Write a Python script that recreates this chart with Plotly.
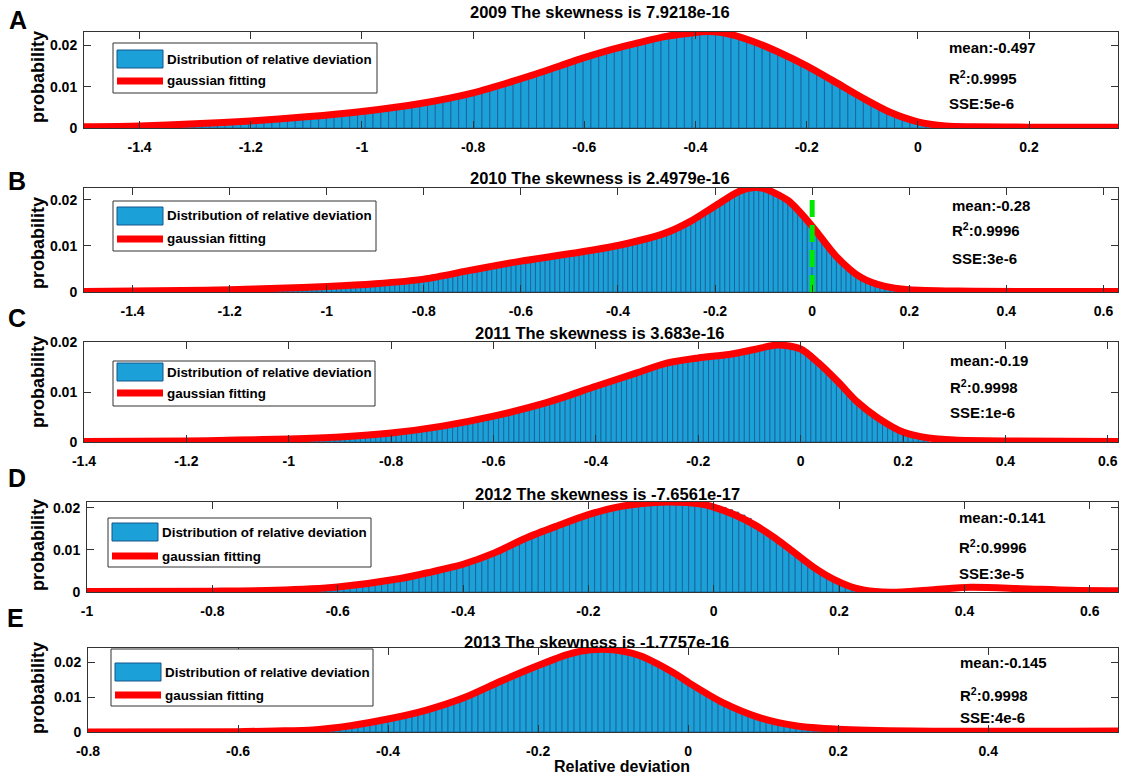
import numpy as np
import plotly.graph_objects as go

# ---------------- data ----------------
titles = ["2009 The skewness is 7.9218e-16",
          "2010 The skewness is 2.4979e-16",
          "2011 The skewness is 3.683e-16",
          "2012 The skewness is -7.6561e-17",
          "2013 The skewness is -1.7757e-16"]
panel_letters = ["A", "B", "C", "D", "E"]
means = ["-0.497", "-0.28", "-0.19", "-0.141", "-0.145"]
r2_vals = ["0.9995", "0.9996", "0.9998", "0.9996", "0.9998"]
sse_vals = ["5e-6", "3e-6", "1e-6", "3e-5", "4e-6"]
legend_labels = ["Distribution of relative deviation", "gaussian fitting"]
y_label = "probability"
x_label = "Relative deviation"

# histogram bins: first edge, bin width, bar heights (probability)
A_bin_start, A_bin_width = -1.33, 0.014
A_heights = [0.0009, 0.0010, 0.0010, 0.0011, 0.0012, 0.0013, 0.0014, 0.0015, 0.0016, 0.0017,
             0.0018, 0.0020, 0.0021, 0.0022, 0.0024, 0.0025, 0.0027, 0.0029, 0.0031, 0.0033,
             0.0034, 0.0036, 0.0038, 0.0040, 0.0042, 0.0045, 0.0047, 0.0050, 0.0052, 0.0055,
             0.0058, 0.0061, 0.0064, 0.0068, 0.0072, 0.0076, 0.0080, 0.0084, 0.0088, 0.0093,
             0.0098, 0.0104, 0.0110, 0.0116, 0.0122, 0.0128, 0.0134, 0.0140, 0.0147, 0.0153,
             0.0160, 0.0166, 0.0172, 0.0178, 0.0184, 0.0189, 0.0194, 0.0199, 0.0203, 0.0207,
             0.0212, 0.0216, 0.0220, 0.0224, 0.0227, 0.0229, 0.0231, 0.0232, 0.0232, 0.0230,
             0.0227, 0.0222, 0.0216, 0.0208, 0.0201, 0.0193, 0.0185, 0.0177, 0.0169, 0.0160,
             0.0152, 0.0142, 0.0132, 0.0122, 0.0111, 0.0100, 0.0089, 0.0078, 0.0067, 0.0056,
             0.0046, 0.0037, 0.0029, 0.0022, 0.0016, 0.0011, 0.0007]

B_bin_start, B_bin_width = -1.20, 0.01
B_heights = [0.0005, 0.0005, 0.0005, 0.0006, 0.0006, 0.0006, 0.0007, 0.0007, 0.0007, 0.0008,
             0.0008, 0.0008, 0.0009, 0.0009, 0.0010, 0.0010, 0.0010, 0.0011, 0.0011, 0.0012,
             0.0012, 0.0013, 0.0013, 0.0014, 0.0014, 0.0015, 0.0016, 0.0016, 0.0017, 0.0018,
             0.0019, 0.0020, 0.0021, 0.0022, 0.0023, 0.0024, 0.0025, 0.0026, 0.0027, 0.0028,
             0.0029, 0.0031, 0.0033, 0.0035, 0.0037, 0.0039, 0.0041, 0.0043, 0.0045, 0.0047,
             0.0049, 0.0051, 0.0053, 0.0055, 0.0057, 0.0059, 0.0061, 0.0063, 0.0065, 0.0066,
             0.0068, 0.0069, 0.0071, 0.0072, 0.0074, 0.0076, 0.0077, 0.0079, 0.0080, 0.0082,
             0.0084, 0.0085, 0.0087, 0.0089, 0.0091, 0.0093, 0.0094, 0.0096, 0.0098, 0.0100,
             0.0102, 0.0104, 0.0106, 0.0108, 0.0111, 0.0114, 0.0117, 0.0120, 0.0123, 0.0127,
             0.0132, 0.0136, 0.0141, 0.0146, 0.0151, 0.0157, 0.0163, 0.0170, 0.0177, 0.0184,
             0.0191, 0.0198, 0.0205, 0.0211, 0.0216, 0.0220, 0.0223, 0.0225, 0.0226, 0.0226,
             0.0224, 0.0221, 0.0217, 0.0212, 0.0205, 0.0197, 0.0188, 0.0177, 0.0165, 0.0151,
             0.0136, 0.0122, 0.0108, 0.0095, 0.0082, 0.0070, 0.0059, 0.0049, 0.0041, 0.0034,
             0.0028, 0.0023, 0.0019, 0.0016, 0.0013, 0.0011, 0.0009, 0.0007, 0.0006, 0.0005]

C_bin_start, C_bin_width = -1.00, 0.01
C_heights = [0.0006, 0.0006, 0.0007, 0.0007, 0.0007, 0.0008, 0.0008, 0.0009, 0.0009, 0.0010,
             0.0010, 0.0011, 0.0011, 0.0012, 0.0013, 0.0014, 0.0015, 0.0016, 0.0016, 0.0017,
             0.0018, 0.0019, 0.0021, 0.0022, 0.0023, 0.0025, 0.0026, 0.0028, 0.0029, 0.0031,
             0.0033, 0.0035, 0.0037, 0.0039, 0.0041, 0.0043, 0.0045, 0.0047, 0.0049, 0.0051,
             0.0053, 0.0056, 0.0058, 0.0061, 0.0063, 0.0066, 0.0069, 0.0071, 0.0074, 0.0077,
             0.0080, 0.0083, 0.0087, 0.0090, 0.0094, 0.0097, 0.0101, 0.0104, 0.0107, 0.0111,
             0.0114, 0.0117, 0.0120, 0.0123, 0.0126, 0.0129, 0.0132, 0.0136, 0.0139, 0.0143,
             0.0146, 0.0149, 0.0152, 0.0155, 0.0158, 0.0160, 0.0162, 0.0164, 0.0166, 0.0168,
             0.0169, 0.0170, 0.0171, 0.0172, 0.0173, 0.0174, 0.0176, 0.0177, 0.0178, 0.0179,
             0.0181, 0.0184, 0.0187, 0.0189, 0.0191, 0.0193, 0.0194, 0.0194, 0.0192, 0.0189,
             0.0183, 0.0176, 0.0169, 0.0159, 0.0150, 0.0140, 0.0130, 0.0119, 0.0109, 0.0099,
             0.0089, 0.0078, 0.0070, 0.0062, 0.0053, 0.0046, 0.0040, 0.0033, 0.0027, 0.0022,
             0.0018, 0.0015, 0.0012, 0.0010, 0.0008]

D_bin_start, D_bin_width = -0.70, 0.01
D_heights = [0.0004, 0.0005, 0.0005, 0.0006, 0.0007, 0.0007, 0.0008, 0.0009, 0.0010, 0.0011,
             0.0013, 0.0014, 0.0016, 0.0018, 0.0020, 0.0022, 0.0024, 0.0026, 0.0028, 0.0030,
             0.0033, 0.0036, 0.0039, 0.0042, 0.0045, 0.0048, 0.0051, 0.0055, 0.0058, 0.0062,
             0.0066, 0.0071, 0.0076, 0.0081, 0.0087, 0.0093, 0.0099, 0.0106, 0.0113, 0.0120,
             0.0126, 0.0132, 0.0138, 0.0144, 0.0150, 0.0156, 0.0162, 0.0167, 0.0172, 0.0177,
             0.0182, 0.0187, 0.0191, 0.0195, 0.0199, 0.0202, 0.0204, 0.0206, 0.0208, 0.0210,
             0.0211, 0.0212, 0.0213, 0.0213, 0.0213, 0.0212, 0.0211, 0.0209, 0.0207, 0.0205,
             0.0205, 0.0201, 0.0196, 0.0190, 0.0183, 0.0175, 0.0164, 0.0150, 0.0140, 0.0130,
             0.0120, 0.0109, 0.0097, 0.0086, 0.0074, 0.0063, 0.0053, 0.0044, 0.0036, 0.0028,
             0.0021, 0.0015, 0.0010, 0.0006, 0.0003]

E_bin_start, E_bin_width = -0.52, 0.008
E_heights = [0.0004, 0.0005, 0.0006, 0.0007, 0.0009, 0.0011, 0.0013, 0.0015, 0.0017, 0.0020,
             0.0022, 0.0025, 0.0028, 0.0031, 0.0035, 0.0039, 0.0042, 0.0046, 0.0050, 0.0054,
             0.0059, 0.0063, 0.0068, 0.0074, 0.0080, 0.0086, 0.0091, 0.0097, 0.0104, 0.0111,
             0.0119, 0.0127, 0.0135, 0.0143, 0.0150, 0.0157, 0.0165, 0.0172, 0.0179, 0.0186,
             0.0193, 0.0200, 0.0206, 0.0212, 0.0219, 0.0224, 0.0228, 0.0231, 0.0233, 0.0234,
             0.0235, 0.0234, 0.0233, 0.0231, 0.0228, 0.0224, 0.0220, 0.0214, 0.0206, 0.0198,
             0.0189, 0.0180, 0.0170, 0.0159, 0.0148, 0.0137, 0.0126, 0.0115, 0.0105, 0.0095,
             0.0086, 0.0078, 0.0071, 0.0064, 0.0057, 0.0051, 0.0045, 0.0040, 0.0035, 0.0031,
             0.0027, 0.0023, 0.0020, 0.0017, 0.0015, 0.0013, 0.0011, 0.0010, 0.0009, 0.0008]

# gaussian fitting curves
A_fit_x = [-1.5, -1.4, -1.3, -1.2, -1.1, -1.0, -0.9, -0.8, -0.7, -0.6, -0.55, -0.5, -0.45, -0.4,
           -0.38, -0.35, -0.3, -0.25, -0.2, -0.15, -0.1, -0.05, 0.0, 0.05, 0.1, 0.2, 0.36]
A_fit_y = [0.0003, 0.0005, 0.0010, 0.0017, 0.0027, 0.0040, 0.0058, 0.0085, 0.0125, 0.0170, 0.0190,
           0.0207, 0.0222, 0.0231, 0.0233, 0.0230, 0.0211, 0.0183, 0.0150, 0.0112, 0.0073, 0.0038,
           0.0015, 0.0005, 0.0003, 0.0002, 0.0002]

B_fit_x = [-1.5, -1.4, -1.3, -1.2, -1.1, -1.0, -0.9, -0.8, -0.7, -0.6, -0.5, -0.4, -0.3, -0.25,
           -0.2, -0.15, -0.12, -0.1, -0.05, 0.0, 0.05, 0.1, 0.15, 0.2, 0.3, 0.63]
B_fit_y = [0.0001, 0.0002, 0.0003, 0.0005, 0.0008, 0.0012, 0.0018, 0.0028, 0.0048, 0.0067, 0.0083,
           0.0101, 0.0129, 0.0154, 0.0187, 0.0219, 0.0227, 0.0225, 0.0199, 0.0143, 0.0077, 0.0032,
           0.0012, 0.0005, 0.0002, 0.0001]
B_zero_line_x = 0.0
B_zero_line_top = 0.0211

C_fit_x = [-1.4, -1.2, -1.1, -1.0, -0.9, -0.8, -0.7, -0.6, -0.5, -0.4, -0.32, -0.26, -0.2, -0.14,
           -0.09, -0.045, 0.0, 0.035, 0.075, 0.11, 0.15, 0.2, 0.25, 0.3, 0.4, 0.62]
C_fit_y = [0.0001, 0.0002, 0.0004, 0.0006, 0.0010, 0.0018, 0.0032, 0.0052, 0.0078, 0.0112, 0.0139,
           0.0159, 0.0169, 0.0176, 0.0186, 0.0195, 0.0187, 0.0159, 0.0119, 0.0081, 0.0049, 0.0020,
           0.0008, 0.0004, 0.0002, 0.0001]

D_fit_x = [-1.0, -0.8, -0.7, -0.6, -0.5, -0.45, -0.4, -0.35, -0.3, -0.25, -0.2, -0.15, -0.1, -0.07,
           -0.02, 0.0, 0.034, 0.066, 0.098, 0.13, 0.162, 0.194, 0.226, 0.258, 0.3, 0.354, 0.41,
           0.49, 0.57, 0.645]
D_fit_y = [0.0001, 0.0002, 0.0004, 0.0012, 0.0032, 0.0048, 0.0066, 0.0093, 0.0128, 0.0157, 0.0184,
           0.0203, 0.0212, 0.0214, 0.0209, 0.0202, 0.0183, 0.0159, 0.0128, 0.0092, 0.0056, 0.0028,
           0.0009, 0.0001, 0.0000, 0.0006, 0.0011, 0.0008, 0.0004, 0.0003]

E_fit_x = [-0.8, -0.6, -0.55, -0.5, -0.45, -0.4, -0.35, -0.3, -0.25, -0.2, -0.16, -0.13, -0.1,
           -0.064, -0.02, 0.0, 0.047, 0.095, 0.143, 0.2, 0.3, 0.573]
E_fit_y = [0.0000, 0.0001, 0.0003, 0.0006, 0.0018, 0.0037, 0.0062, 0.0097, 0.0145, 0.0190, 0.0222,
           0.0235, 0.0235, 0.0218, 0.0170, 0.0142, 0.0083, 0.0041, 0.0018, 0.0008, 0.0003, 0.0003]

# axis ticks
A_xticks = [-1.4, -1.2, -1.0, -0.8, -0.6, -0.4, -0.2, 0.0, 0.2]
A_xticklabels = ["-1.4", "-1.2", "-1", "-0.8", "-0.6", "-0.4", "-0.2", "0", "0.2"]
B_xticks = [-1.4, -1.2, -1.0, -0.8, -0.6, -0.4, -0.2, 0.0, 0.2, 0.4, 0.6]
B_xticklabels = ["-1.4", "-1.2", "-1", "-0.8", "-0.6", "-0.4", "-0.2", "0", "0.2", "0.4", "0.6"]
C_xticks = B_xticks
C_xticklabels = B_xticklabels
D_xticks = [-1.0, -0.8, -0.6, -0.4, -0.2, 0.0, 0.2, 0.4, 0.6]
D_xticklabels = ["-1", "-0.8", "-0.6", "-0.4", "-0.2", "0", "0.2", "0.4", "0.6"]
E_xticks = [-0.8, -0.6, -0.4, -0.2, 0.0, 0.2, 0.4]
E_xticklabels = ["-0.8", "-0.6", "-0.4", "-0.2", "0", "0.2", "0.4"]
y_ticks = [0.0, 0.01, 0.02]
y_ticklabels = ["0", "0.01", "0.02"]

A_xrange, A_yrange = [-1.5, 0.36], [0, 0.0232]
B_xrange, B_yrange = [-1.5, 0.63], [0, 0.0226]
C_xrange, C_yrange = [-1.4, 0.62], [0, 0.0201]
D_xrange, D_yrange = [-1.0, 0.645], [0, 0.0214]
E_xrange, E_yrange = [-0.8, 0.573], [0, 0.0240]

# ---------------- styling / layout ----------------
W, H = 1128, 775
BAR = "rgb(28,160,216)"
EDGE = "rgb(22,84,140)"
RED = "rgb(255,0,0)"
GREEN = "rgb(0,232,0)"
AX = "#333333"
FONT = "Liberation Sans, Arial, Helvetica, sans-serif"


def fx(p):
    """window pixel x -> paper fraction"""
    return p / W


def fy(p):
    """window pixel y -> paper fraction"""
    return 1 - p / H


panels = [
    dict(start=A_bin_start, width=A_bin_width, h=A_heights, fx_=A_fit_x, fy_=A_fit_y,
         xt=A_xticks, xl=A_xticklabels, xr=A_xrange, yr=A_yrange,
         box=(84, 32, 1118, 128), leg=(113, 43, 377, 93, 59, 81), stats=(947, 48, 77, 103),
         title=(600, 12), letter=(18, 20), ylab=(38, 77)),
    dict(start=B_bin_start, width=B_bin_width, h=B_heights, fx_=B_fit_x, fy_=B_fit_y,
         xt=B_xticks, xl=B_xticklabels, xr=B_xrange, yr=B_yrange,
         box=(84, 188, 1118, 292), leg=(113, 201, 376, 251, 216, 239), stats=(950, 205, 230, 258),
         title=(600, 178), letter=(17, 181), ylab=(38, 243)),
    dict(start=C_bin_start, width=C_bin_width, h=C_heights, fx_=C_fit_x, fy_=C_fit_y,
         xt=C_xticks, xl=C_xticklabels, xr=C_xrange, yr=C_yrange,
         box=(84, 342, 1118, 442), leg=(113, 361, 375, 406, 372, 393), stats=(948, 360, 386, 412),
         title=(600, 333), letter=(17, 318), ylab=(38, 382)),
    dict(start=D_bin_start, width=D_bin_width, h=D_heights, fx_=D_fit_x, fy_=D_fit_y,
         xt=D_xticks, xl=D_xticklabels, xr=D_xrange, yr=D_yrange,
         box=(87, 502, 1118, 592), leg=(108, 518, 371, 567, 532, 556), stats=(957, 517, 546, 573),
         title=(607, 494), letter=(17, 478), ylab=(38, 545)),
    dict(start=E_bin_start, width=E_bin_width, h=E_heights, fx_=E_fit_x, fy_=E_fit_y,
         xt=E_xticks, xl=E_xticklabels, xr=E_xrange, yr=E_yrange,
         box=(88, 648, 1118, 732), leg=(111, 649, 373, 706, 672, 695), stats=(958, 662, 694, 717),
         title=(596, 642), letter=(15, 618), ylab=(38, 688)),
]

fig = go.Figure()
layout = dict(width=W, height=H, margin=dict(l=0, r=0, t=0, b=0, pad=0, autoexpand=False),
              autosize=False, paper_bgcolor="white", plot_bgcolor="white", showlegend=False,
              barmode="overlay", font=dict(family=FONT, color="black"))
shapes, annotations = [], []

for i, p in enumerate(panels):
    k = "" if i == 0 else str(i + 1)
    xref, yref = "x" + k, "y" + k
    centers = p["start"] + p["width"] * (np.arange(len(p["h"])) + 0.5)
    fig.add_trace(go.Bar(x=centers, y=p["h"], width=p["width"], xaxis=xref, yaxis=yref,
                         marker=dict(color=BAR, line=dict(color=EDGE, width=0.7)),
                         hoverinfo="skip"))
    fig.add_trace(go.Scatter(x=p["fx_"], y=p["fy_"], mode="lines", xaxis=xref, yaxis=yref,
                             line=dict(color=RED, width=7, shape="spline", smoothing=0.8),
                             hoverinfo="skip"))
    if i == 1:
        fig.add_trace(go.Scatter(x=[B_zero_line_x, B_zero_line_x], y=[0, B_zero_line_top],
                                 mode="lines", xaxis=xref, yaxis=yref,
                                 line=dict(color=GREEN, width=5, dash="17px,8px"),
                                 hoverinfo="skip"))
    l, t, r, b = p["box"]
    tickfont = dict(family=FONT, size=14, color="black", weight="bold")
    layout["xaxis" + k] = dict(domain=[fx(l), fx(r)], range=p["xr"], anchor=yref,
                               tickvals=p["xt"], ticktext=p["xl"], ticks="inside", ticklen=7,
                               tickcolor=AX, showline=True, linecolor=AX, linewidth=1,
                               mirror="ticks", showgrid=False, zeroline=False, automargin=False,
                               tickfont=tickfont, ticklabelstandoff=6, fixedrange=True)
    layout["yaxis" + k] = dict(domain=[fy(b), fy(t)], range=p["yr"], anchor=xref,
                               tickvals=y_ticks, ticktext=y_ticklabels, ticks="inside", ticklen=7,
                               tickcolor=AX, showline=True, linecolor=AX, linewidth=1,
                               mirror="ticks", showgrid=False, zeroline=False, automargin=False,
                               tickfont=tickfont, ticklabelstandoff=3, fixedrange=True)

    # legend box
    lx0, ly0, lx1, ly1, row1, row2 = p["leg"]
    shapes.append(dict(type="rect", xref="paper", yref="paper", x0=fx(lx0), x1=fx(lx1),
                       y0=fy(ly1), y1=fy(ly0), line=dict(color=AX, width=1), fillcolor="white"))
    shapes.append(dict(type="rect", xref="paper", yref="paper", x0=fx(lx0 + 4), x1=fx(lx0 + 50),
                       y0=fy(row1 + 9), y1=fy(row1 - 9), line=dict(color=EDGE, width=1),
                       fillcolor=BAR))
    shapes.append(dict(type="line", xref="paper", yref="paper", x0=fx(lx0 + 4), x1=fx(lx0 + 50),
                       y0=fy(row2), y1=fy(row2), line=dict(color=RED, width=7)))
    for txt, ry in zip(legend_labels, (row1, row2)):
        annotations.append(dict(text=txt, xref="paper", yref="paper", x=fx(lx0 + 52), y=fy(ry),
                                xanchor="left", yanchor="middle", showarrow=False,
                                font=dict(family=FONT, size=13.4, weight="bold", color="black")))

    # stats text
    sx, s1, s2, s3 = p["stats"]
    for txt, sy in zip(("mean:" + means[i], "R<sup>2</sup>:" + r2_vals[i], "SSE:" + sse_vals[i]),
                       (s1, s2, s3)):
        annotations.append(dict(text=txt, xref="paper", yref="paper", x=fx(sx), y=fy(sy),
                                xanchor="left", yanchor="middle", showarrow=False,
                                font=dict(family=FONT, size=15, weight="bold", color="black")))

    # title
    tx, ty = p["title"]
    annotations.append(dict(text=titles[i], xref="paper", yref="paper", x=fx(tx), y=fy(ty),
                            xanchor="center", yanchor="middle", showarrow=False,
                            font=dict(family=FONT, size=16.5, weight="bold", color="black")))
    # panel letter
    ax_, ay_ = p["letter"]
    annotations.append(dict(text=panel_letters[i], xref="paper", yref="paper", x=fx(ax_),
                            y=fy(ay_), xanchor="center", yanchor="middle", showarrow=False,
                            font=dict(family=FONT, size=25, weight="bold", color="black")))
    # y label
    yx, yy = p["ylab"]
    annotations.append(dict(text=y_label, xref="paper", yref="paper", x=fx(yx), y=fy(yy),
                            xanchor="center", yanchor="middle", showarrow=False, textangle=-90,
                            font=dict(family=FONT, size=18, weight="bold", color="black")))

annotations.append(dict(text=x_label, xref="paper", yref="paper", x=fx(622), y=fy(766),
                        xanchor="center", yanchor="middle", showarrow=False,
                        font=dict(family=FONT, size=16, weight="bold", color="black")))

layout["shapes"] = shapes
layout["annotations"] = annotations
fig.update_layout(**layout)
# the page body has a default 8px margin; remove it so the figure fills the window exactly
fig.write_html("out.html", config={"displayModeBar": False, "staticPlot": True},
               post_script="document.body.style.margin='0';document.body.style.overflow='hidden';")
